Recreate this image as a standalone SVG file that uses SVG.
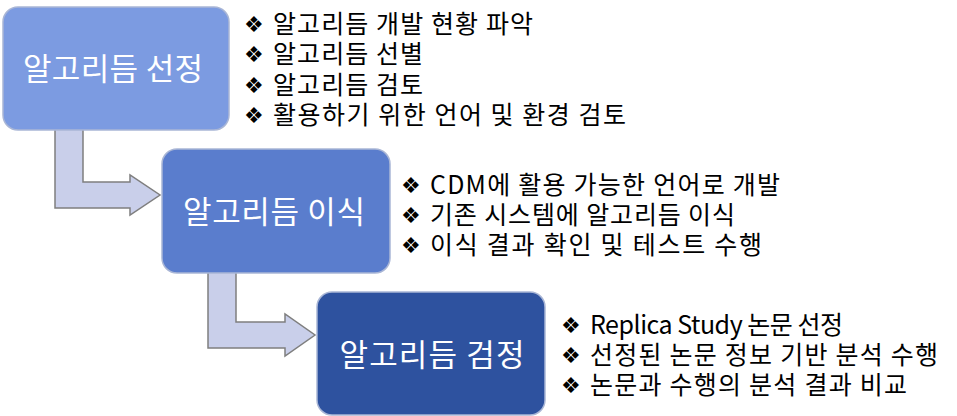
<svg xmlns="http://www.w3.org/2000/svg" width="957" height="416" viewBox="0 0 957 416">
<style>
.box{stroke:#a9b6d6;stroke-width:1.5}
.lbl{font-family:"Noto Sans CJK KR","Noto Sans",sans-serif;font-size:31px;fill:#ffffff;text-anchor:middle}
.bul{font-family:"Noto Sans CJK KR","Noto Sans",sans-serif;font-size:25px;fill:#000000}
.dot{font-family:"DejaVu Sans",sans-serif;font-size:22px;fill:#000000}
.arr{fill:#c9cfea;stroke:#7f7f7f;stroke-width:1.5;stroke-linejoin:miter}
</style>
<rect width="957" height="416" fill="#ffffff"/>
<g id="connectors">
<path class="arr" d="M55,128 L83,128 L83,182 L130,182 L130,175 L160,195 L130,215 L130,208 L55,208 Z"/>
<path class="arr" d="M208,271 L236,271 L236,322 L285,322 L285,314 L315,335 L285,356 L285,348 L208,348 Z"/>
</g>
<g id="node1">
<rect class="box" x="3" y="7" width="226" height="123" rx="15" fill="#7c9be1"/>
<text class="lbl" x="113" y="80" textLength="180" lengthAdjust="spacing">알고리듬 선정</text>
</g>
<g id="node2">
<rect class="box" x="162" y="149" width="228" height="124" rx="15" fill="#5a7dcd"/>
<text class="lbl" x="274" y="223" textLength="182" lengthAdjust="spacing">알고리듬 이식</text>
</g>
<g id="node3">
<rect class="box" x="317" y="292" width="228" height="123" rx="15" fill="#2e529f"/>
<text class="lbl" x="432" y="366" textLength="185" lengthAdjust="spacing">알고리듬 검정</text>
</g>
<g id="notes1">
<text class="dot" x="244" y="32">❖</text>
<text class="bul" x="273" y="33" textLength="260" lengthAdjust="spacing">알고리듬 개발 현황 파악</text>
<text class="dot" x="244" y="62">❖</text>
<text class="bul" x="273" y="63" textLength="150" lengthAdjust="spacing">알고리듬 선별</text>
<text class="dot" x="244" y="93">❖</text>
<text class="bul" x="273" y="94" textLength="150" lengthAdjust="spacing">알고리듬 검토</text>
<text class="dot" x="244" y="123">❖</text>
<text class="bul" x="273" y="124" textLength="353" lengthAdjust="spacing">활용하기 위한 언어 및 환경 검토</text>
</g>
<g id="notes2">
<text class="dot" x="401" y="193">❖</text>
<text class="bul" x="430" y="194" textLength="350" lengthAdjust="spacing">CDM에 활용 가능한 언어로 개발</text>
<text class="dot" x="401" y="223">❖</text>
<text class="bul" x="430" y="224" textLength="305" lengthAdjust="spacing">기존 시스템에 알고리듬 이식</text>
<text class="dot" x="401" y="253">❖</text>
<text class="bul" x="430" y="254" textLength="332" lengthAdjust="spacing">이식 결과 확인 및 테스트 수행</text>
</g>
<g id="notes3">
<text class="dot" x="561" y="333">❖</text>
<text class="bul" x="590" y="334" textLength="253" lengthAdjust="spacing">Replica Study 논문 선정</text>
<text class="dot" x="561" y="363">❖</text>
<text class="bul" x="590" y="364" textLength="348" lengthAdjust="spacing">선정된 논문 정보 기반 분석 수행</text>
<text class="dot" x="561" y="393">❖</text>
<text class="bul" x="590" y="394" textLength="317" lengthAdjust="spacing">논문과 수행의 분석 결과 비교</text>
</g>
</svg>
